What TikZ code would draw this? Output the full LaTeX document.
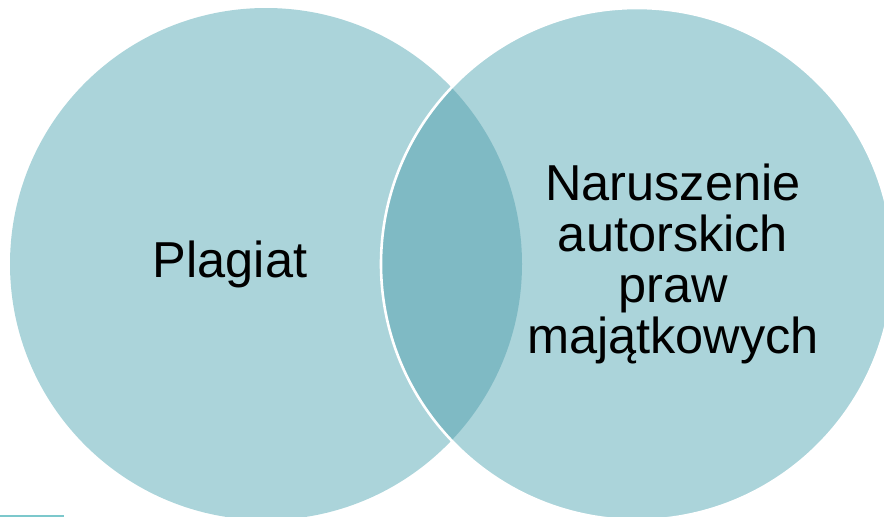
\documentclass[tikz,border=0pt]{standalone}
\usepackage{fontspec}
\setmainfont{Liberation Sans}
\definecolor{lightc}{HTML}{ABD4DA}
\definecolor{lensc}{HTML}{7FBAC4}
\definecolor{barc}{HTML}{7CC8CC}
\tikzset{
  venn/.style={circle, fill=lightc, minimum size=512pt, inner sep=0pt, draw=none},
  lbl/.style={font=\fontsize{50.5}{51}\selectfont, text=black, align=center, inner sep=0pt}
}
\begin{document}
\begin{tikzpicture}[x=1pt,y=-1pt]
\useasboundingbox (0,0) rectangle (884,517);
\node[venn] (L) at (266,264) {};
\node[venn] (R) at (637,264) {};
\begin{scope}
  \clip (266,264) circle (256);
  \fill[lensc] (637,264) circle (256);
\end{scope}
\draw[white, line width=2.6pt] (637,264) circle (256);
\fill[barc] (0,514.5) rectangle (64,517);
\node[lbl, anchor=base] (p) at (230,277) {Plagiat};
\node[lbl] (n) at (673,264) {Naruszenie\\autorskich\\praw\\majątkowych};
\end{tikzpicture}
\end{document}
